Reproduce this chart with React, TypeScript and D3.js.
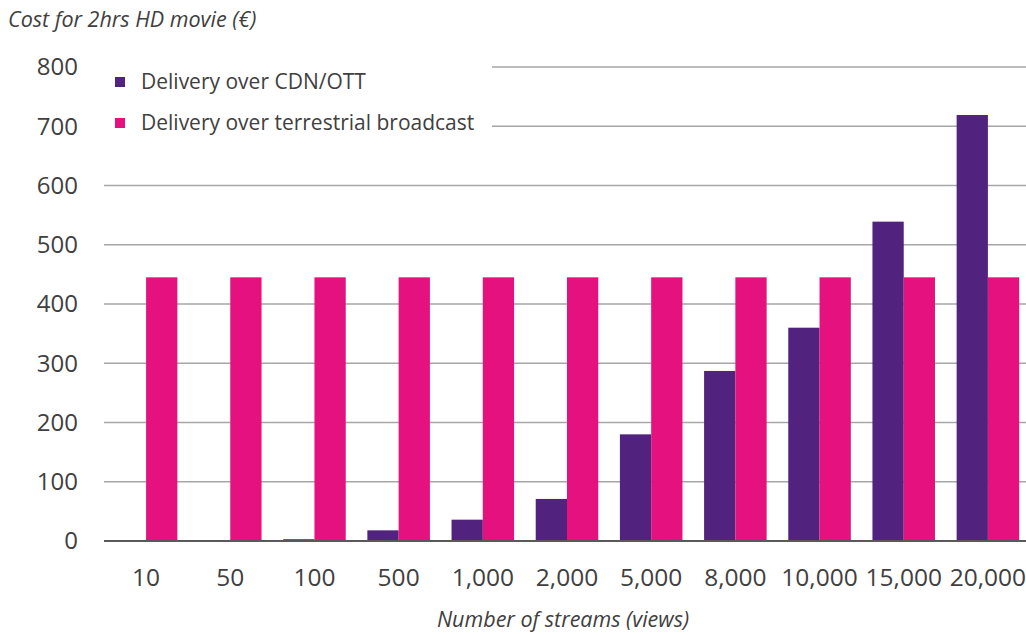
import * as d3 from 'd3';

const categories = ['10', '50', '100', '500', '1,000', '2,000', '5,000', '8,000', '10,000', '15,000', '20,000'];
const cdnCost = [0.1, 0.5, 3, 18, 36, 71, 180, 287, 360, 539, 719];
const broadcastCost = [445, 445, 445, 445, 445, 445, 445, 445, 445, 445, 445];
const yTicks = [0, 100, 200, 300, 400, 500, 600, 700, 800];
const seriesNames = ['Delivery over CDN/OTT', 'Delivery over terrestrial broadcast'];
const seriesColors = ['#51237f', '#e5117f'];

const W = 1026, H = 635;
const FONT = '"Open Sans", "DejaVu Sans", sans-serif';

export default function App() {
  const x = d3.scaleBand<string>()
    .domain(categories)
    .range([104, 1030])
    .paddingInner(0.257)
    .paddingOuter(0.1285);
  const x1 = d3.scaleBand<number>()
    .domain([0, 1])
    .range([0, x.bandwidth()]);
  const y = d3.scaleLinear().domain([0, 800]).range([541, 67]);

  const series = [cdnCost, broadcastCost];

  return (
    <svg width={W} height={H} style={{ position: 'absolute', left: 0, top: 0, background: '#fff' }}>
      {/* title */}
      <text x={8} y={27} fontFamily={FONT} fontStyle="italic" fontSize={21.5} fill="#404040">
        Cost for 2hrs HD movie (€)
      </text>

      {/* grid */}
      {yTicks.filter(t => t > 0).map(t => (
        <line key={t} x1={104} x2={W} y1={y(t)} y2={y(t)} stroke="#a6a6a6" strokeWidth={1.3} />
      ))}

      {/* y tick labels */}
      {yTicks.map(t => (
        <text key={t} x={78} y={y(t)} dy="0.35em" textAnchor="end"
          fontFamily={FONT} fontSize={24} fill="#404040">{t}</text>
      ))}

      {/* bars */}
      {categories.map((c, i) => (
        <g key={c} transform={`translate(${x(c)},0)`}>
          {series.map((vals, s) => (
            <rect key={s} x={x1(s)} y={y(vals[i])} width={x1.bandwidth()}
              height={y(0) - y(vals[i])} fill={seriesColors[s]} />
          ))}
        </g>
      ))}

      {/* axis line */}
      <line x1={104} x2={W} y1={y(0)} y2={y(0)} stroke="#595959" strokeWidth={2} />

      {/* x tick labels */}
      {categories.map(c => (
        <text key={c} x={(x(c) ?? 0) + x.bandwidth() / 2} y={586} textAnchor="middle"
          fontFamily={FONT} fontSize={24.5} fill="#404040">{c}</text>
      ))}

      {/* x axis title */}
      <text x={563} y={627} textAnchor="middle" fontFamily={FONT} fontStyle="italic"
        fontSize={21.5} fill="#404040">Number of streams (views)</text>

      {/* legend */}
      <rect x={100} y={58} width={392} height={84} fill="#fff" />
      {seriesNames.map((name, i) => (
        <g key={name} transform={`translate(115,${82 + i * 41})`}>
          <rect x={0} y={-5} width={10} height={10} fill={seriesColors[i]} />
          <text x={26} y={0} dy="0.35em" fontFamily={FONT} fontSize={21} fill="#404040">{name}</text>
        </g>
      ))}
    </svg>
  );
}
